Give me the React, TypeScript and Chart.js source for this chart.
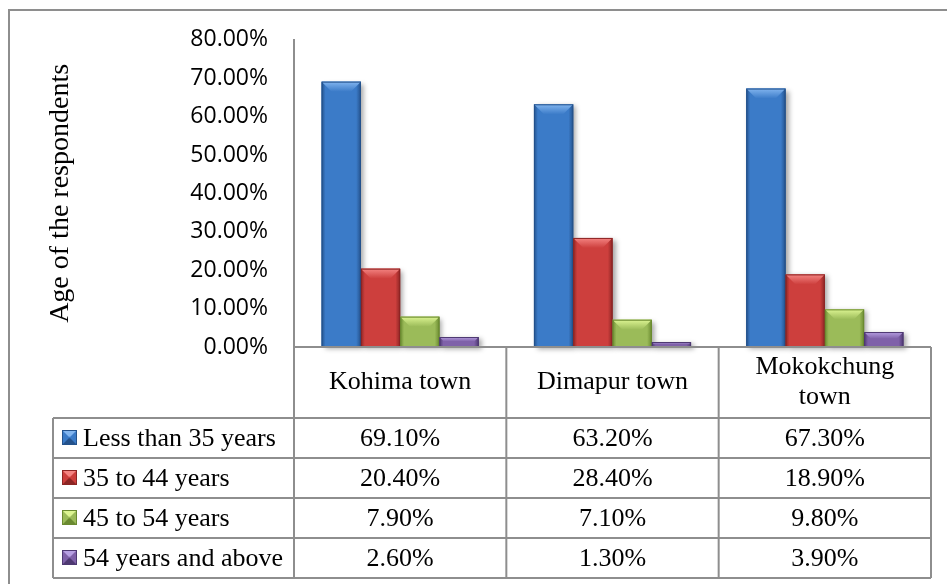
import React, { useEffect, useRef } from 'react';
import { Chart, registerables } from 'chart.js';

Chart.register(...registerables);

const categories = ['Kohima town', 'Dimapur town', 'Mokokchung town'];
const seriesNames = ['Less than 35 years', '35 to 44 years', '45 to 54 years', '54 years and above'];
const lessThan35 = [69.1, 63.2, 67.3];
const from35to44 = [20.4, 28.4, 18.9];
const from45to54 = [7.9, 7.1, 9.8];
const above54 = [2.6, 1.3, 3.9];
const yMax = 80;
const yStep = 10;
const yTitle = 'Age of the respondents';

const seriesValues = [lessThan35, from35to44, from45to54, above54];

const palettes = [
  { base: '#3b7bc8', dark: '#24528c', light: '#82b5ef' },
  { base: '#cd3f3d', dark: '#8c2524', light: '#f48482' },
  { base: '#9bbb59', dark: '#6a8a30', light: '#dcf492' },
  { base: '#7f61a9', dark: '#4e3972', light: '#b7a0e2' },
];

const LINE = '#8e8e8e';
const SERIF = '"Liberation Serif", "Times New Roman", serif';

function drawBevelBar(ctx: CanvasRenderingContext2D, left: number, top: number, right: number, bottom: number, pal: any) {
  const w = right - left;
  const h = bottom - top;
  if (h <= 0 || w <= 0) return;
  ctx.save();
  ctx.shadowColor = 'rgba(0,0,0,0.35)';
  ctx.shadowBlur = 5;
  ctx.shadowOffsetX = 3;
  ctx.shadowOffsetY = 2;
  const g = ctx.createLinearGradient(left, 0, right, 0);
  g.addColorStop(0, pal.dark);
  g.addColorStop(0.1, pal.base);
  g.addColorStop(0.88, pal.base);
  g.addColorStop(1, pal.dark);
  ctx.fillStyle = g;
  ctx.fillRect(left, top, w, h);
  ctx.restore();

  ctx.save();
  const b = Math.min(10, h * 0.45, w * 0.3);
  ctx.beginPath();
  ctx.moveTo(left, top);
  ctx.lineTo(right, top);
  ctx.lineTo(right - b, top + b);
  ctx.lineTo(left + b, top + b);
  ctx.closePath();
  const tg = ctx.createLinearGradient(0, top, 0, top + b);
  tg.addColorStop(0, pal.light);
  tg.addColorStop(1, pal.base);
  ctx.fillStyle = tg;
  ctx.fill();
  ctx.strokeStyle = pal.dark;
  ctx.lineWidth = 1;
  ctx.strokeRect(left + 0.5, top + 0.5, w - 1, h - 1);
  ctx.restore();
}

function drawSwatch(ctx: CanvasRenderingContext2D, x: number, y: number, s: number, pal: any) {
  ctx.save();
  ctx.fillStyle = pal.base;
  ctx.fillRect(x, y, s, s);
  const b = s * 0.45;
  ctx.beginPath();
  ctx.moveTo(x, y); ctx.lineTo(x + s, y); ctx.lineTo(x + s - b, y + b); ctx.lineTo(x + b, y + b); ctx.closePath();
  ctx.fillStyle = pal.light; ctx.fill();
  ctx.beginPath();
  ctx.moveTo(x, y + s); ctx.lineTo(x + s, y + s); ctx.lineTo(x + s - b, y + s - b); ctx.lineTo(x + b, y + s - b); ctx.closePath();
  ctx.fillStyle = pal.dark; ctx.fill();
  ctx.strokeStyle = pal.dark; ctx.lineWidth = 1;
  ctx.strokeRect(x + 0.5, y + 0.5, s - 1, s - 1);
  ctx.restore();
}

function wrapText(ctx: CanvasRenderingContext2D, text: string, maxW: number): string[] {
  const words = text.split(' ');
  const lines: string[] = [];
  let cur = '';
  for (const w of words) {
    const t = cur ? cur + ' ' + w : w;
    if (cur && ctx.measureText(t).width > maxW) {
      lines.push(cur);
      cur = w;
    } else cur = t;
  }
  if (cur) lines.push(cur);
  return lines;
}

const bevelPlugin = {
  id: 'bevelBars',
  afterDatasetsDraw(chart: any) {
    const ctx = chart.ctx;
    ctx.save();
    chart.data.datasets.forEach((_: any, di: number) => {
      const meta = chart.getDatasetMeta(di);
      meta.data.forEach((el: any) => {
        const { x, y, base, width } = el.getProps(['x', 'y', 'base', 'width'], true);
        drawBevelBar(ctx, x - width / 2, Math.min(y, base), x + width / 2, Math.max(y, base), palettes[di]);
      });
    });
    ctx.restore();
  },
};

const tablePlugin = {
  id: 'dataTable',
  afterDraw(chart: any) {
    const ctx = chart.ctx;
    const { left, right, bottom } = chart.chartArea;
    const xs = chart.scales.x;
    const n = categories.length;
    const colW = (right - left) / n;
    const headerH = 71;
    const rowH = 40;
    const tableLeft = 53;
    const tableBottom = bottom + headerH + rowH * seriesNames.length;

    ctx.save();
    ctx.strokeStyle = LINE;
    ctx.lineWidth = 2;
    ctx.beginPath();
    ctx.moveTo(9, 584); ctx.lineTo(9, 10); ctx.lineTo(947, 10);
    ctx.stroke();

    ctx.beginPath();
    ctx.moveTo(left, bottom); ctx.lineTo(right, bottom);
    for (let i = 0; i <= n; i++) {
      const xx = left + i * colW;
      ctx.moveTo(xx, bottom); ctx.lineTo(xx, tableBottom);
    }
    ctx.moveTo(tableLeft, bottom + headerH); ctx.lineTo(tableLeft, tableBottom);
    for (let r = 0; r <= seriesNames.length; r++) {
      const yy = bottom + headerH + r * rowH;
      ctx.moveTo(tableLeft, yy); ctx.lineTo(right, yy);
    }
    ctx.stroke();

    ctx.fillStyle = '#000';
    ctx.font = '26px ' + SERIF;
    ctx.textAlign = 'center';
    ctx.textBaseline = 'middle';
    categories.forEach((c, i) => {
      const cx = xs.getPixelForValue(i);
      const lines = wrapText(ctx, c, colW - 24);
      const lh = 30;
      const cy = bottom + headerH / 2 - ((lines.length - 1) * lh) / 2;
      lines.forEach((ln, k) => ctx.fillText(ln, cx, cy + k * lh));
    });

    seriesNames.forEach((name, r) => {
      const cy = bottom + headerH + r * rowH + rowH / 2;
      drawSwatch(ctx, tableLeft + 9, cy - 8, 15, palettes[r]);
      ctx.textAlign = 'left';
      ctx.fillText(name, tableLeft + 30, cy + 1);
      ctx.textAlign = 'center';
      seriesValues[r].forEach((v, i) => {
        ctx.fillText(v.toFixed(2) + '%', xs.getPixelForValue(i), cy + 1);
      });
    });
    ctx.restore();
  },
};

export default function App() {
  const ref = useRef<HTMLCanvasElement>(null);
  useEffect(() => {
    if (!ref.current) return;
    const chart = new Chart(ref.current, {
      type: 'bar',
      data: {
        labels: categories,
        datasets: seriesNames.map((name, i) => ({
          label: name,
          data: seriesValues[i],
          backgroundColor: palettes[i].base,
          borderWidth: 0,
        })),
      },
      options: {
        responsive: false,
        animation: false,
        devicePixelRatio: 1,
        layout: { padding: { left: 9, top: 39, right: 16, bottom: 237 } },
        datasets: { bar: { categoryPercentage: 0.74, barPercentage: 1 } },
        plugins: { legend: { display: false }, tooltip: { enabled: false } },
        scales: {
          x: { display: false },
          y: {
            min: 0,
            max: yMax,
            afterFit: (scale: any) => { scale.width = 285; },
            ticks: {
              stepSize: yStep,
              padding: 26,
              color: '#000',
              font: { family: '"Open Sans", sans-serif', size: 23 },
              callback: (v: any) => Number(v).toFixed(2) + '%',
            },
            grid: { display: false, drawTicks: false },
            border: { display: true, color: LINE, width: 2 },
            title: {
              display: true,
              text: yTitle,
              color: '#000',
              font: { family: SERIF, size: 28 },
              padding: { top: 35, bottom: 0 },
            },
          },
        },
      },
      plugins: [bevelPlugin, tablePlugin],
    } as any);
    return () => chart.destroy();
  }, []);
  return (
    <div style={{ position: 'absolute', left: 0, top: 0, width: 947, height: 584, background: '#fff' }}>
      <canvas ref={ref} width={947} height={584} style={{ display: 'block' }} />
    </div>
  );
}
